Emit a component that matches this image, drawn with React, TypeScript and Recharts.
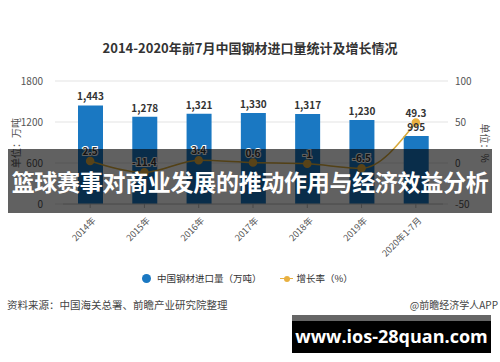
import { ComposedChart, Bar, Line, XAxis, YAxis, CartesianGrid, LabelList } from 'recharts';

const years = ['2014年', '2015年', '2016年', '2017年', '2018年', '2019年', '2020年1-7月'];
const imports = [1443, 1278, 1321, 1330, 1317, 1230, 995];
const growth = [2.5, -11.4, 3.4, 0.6, -1, -6.5, 49.3];
const leftTicks = [0, 600, 1200, 1800];
const rightTicks = [-50, 0, 50, 100];

const data = years.map((year, i) => ({ year, imports: imports[i], growth: growth[i] }));

const FONT = '"Noto Sans CJK SC", "Noto Sans", sans-serif';

function YearTick({ x, y, payload }: any) {
  return (
    <g transform={`translate(${x + 4},${y + 9}) rotate(-45)`}>
      <text x={0} y={0} dy="0.35em" textAnchor="end" fontSize={9} fill="#555" fontFamily={FONT}>
        {payload.value}
      </text>
    </g>
  );
}

export default function App() {
  return (
    <div style={{ position: 'absolute', left: 0, top: 0, width: 500, height: 362, background: '#fff', fontFamily: FONT, overflow: 'hidden' }}>
      <div style={{ position: 'absolute', top: 38, left: 0, width: 500, textAlign: 'center', fontSize: 13, fontWeight: 700, color: '#333' }}>
        2014-2020年前7月中国钢材进口量统计及增长情况
      </div>

      <ComposedChart width={500} height={362} data={data} margin={{ top: 81, right: 0, bottom: 113, left: 0 }}>
        <CartesianGrid vertical={false} stroke="#e3e3e3" yAxisId="left" />
        <XAxis
          dataKey="year"
          tick={<YearTick />}
          interval={0}
          height={45}
          axisLine={{ stroke: '#ccc' }}
          tickLine={{ stroke: '#bbb' }}
          tickSize={4}
        />
        <YAxis
          yAxisId="left"
          width={63}
          domain={[0, 1800]}
          ticks={leftTicks}
          axisLine={false}
          tickLine={{ stroke: '#e3e3e3' }}
          tickSize={8}
          tickMargin={12}
          tick={{ fontSize: 10, fill: '#555', fontFamily: FONT }}
        />
        <YAxis
          yAxisId="right"
          orientation="right"
          width={57}
          domain={[-50, 100]}
          ticks={rightTicks}
          axisLine={false}
          tickLine={{ stroke: '#e3e3e3' }}
          tickSize={5}
          tickMargin={7}
          tick={{ fontSize: 10, fill: '#555', fontFamily: FONT, textAnchor: 'start' }}
        />
        <Bar yAxisId="left" dataKey="imports" fill="#1a78c2" barSize={25} isAnimationActive={false}>
          <LabelList
            dataKey="imports"
            position="top"
            offset={5}
            formatter={(v: any) => Number(v).toLocaleString('en-US')}
            style={{ fontSize: 10, fontWeight: 700, fill: '#333', fontFamily: FONT }}
          />
        </Bar>
        <Line
          yAxisId="right"
          type="monotone"
          dataKey="growth"
          stroke="#d9aa3a"
          strokeWidth={1.5}
          dot={{ r: 3.5, fill: '#e8b040', stroke: '#e8b040' }}
          isAnimationActive={false}
        >
          <LabelList
            dataKey="growth"
            position="top"
            offset={6}
            style={{ fontSize: 10, fontWeight: 700, fill: '#333', fontFamily: FONT, stroke: '#fff', strokeWidth: 2, paintOrder: 'stroke' }}
          />
        </Line>
      </ComposedChart>

      <div style={{ position: 'absolute', left: 15, top: 143, transform: 'translate(-50%,-50%) rotate(-90deg)', fontSize: 10, color: '#555', whiteSpace: 'nowrap' }}>
        单位：万吨
      </div>
      <div style={{ position: 'absolute', left: 485, top: 143, transform: 'translate(-50%,-50%) rotate(90deg)', fontSize: 10, color: '#555', whiteSpace: 'nowrap' }}>
        单位：%
      </div>

      <div style={{ position: 'absolute', top: 271, left: 142, display: 'flex', alignItems: 'center', fontSize: 9.5, color: '#333' }}>
        <span style={{ display: 'inline-block', width: 9, height: 9, borderRadius: '50%', background: '#1a78c2', marginRight: 6 }} />
        <span>中国钢材进口量（万吨）</span>
        <span style={{ position: 'relative', display: 'inline-block', width: 13, height: 9, marginLeft: 18, marginRight: 4 }}>
          <span style={{ position: 'absolute', left: 0, top: 4, width: 13, height: 1.5, background: '#e8b040' }} />
          <span style={{ position: 'absolute', left: 4, top: 2, width: 6, height: 6, borderRadius: '50%', background: '#e8b040' }} />
        </span>
        <span>增长率（%）</span>
      </div>

      <div style={{ position: 'absolute', top: 297, left: 7, fontSize: 10.5, color: '#444' }}>
        资料来源：中国海关总署、前瞻产业研究院整理
      </div>
      <div style={{ position: 'absolute', top: 297, right: 2, fontSize: 10, color: '#444' }}>
        @前瞻经济学人APP
      </div>

      <div style={{ position: 'absolute', left: 8, top: 149, width: 484, height: 64, background: 'rgba(0,0,0,0.62)', display: 'flex', alignItems: 'center', justifyContent: 'center' }}>
        <span style={{ color: '#fff', fontSize: 23, fontWeight: 700, whiteSpace: 'nowrap', letterSpacing: -0.3 }}>
          篮球赛事对商业发展的推动作用与经济效益分析
        </span>
      </div>

      <div style={{ position: 'absolute', left: 292, top: 315, width: 199, height: 38, background: '#000' }}>
        <div style={{ height: 6, background: '#666' }} />
        <div style={{ color: '#fff', fontSize: 18, fontWeight: 700, textAlign: 'center', lineHeight: '30px', fontFamily: '"Open Sans", "DejaVu Sans", sans-serif' }}>
          www.ios-28quan.com
        </div>
      </div>
    </div>
  );
}
